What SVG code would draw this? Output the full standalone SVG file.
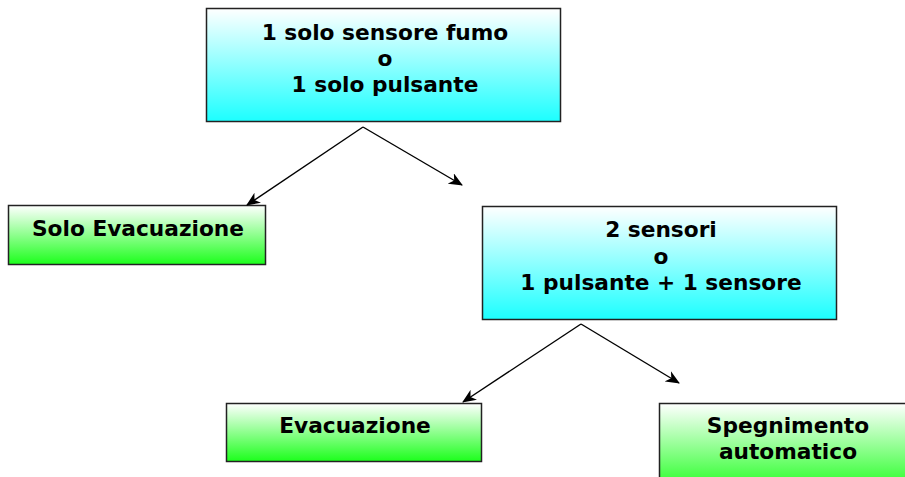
<svg xmlns="http://www.w3.org/2000/svg" width="905" height="477" viewBox="0 0 905 477">
<defs>
<linearGradient id="gc" x1="0" y1="0" x2="0" y2="1">
<stop offset="0" stop-color="#ffffff"/>
<stop offset="1" stop-color="#1cffff"/>
</linearGradient>
<linearGradient id="gg" x1="0" y1="0" x2="0" y2="1">
<stop offset="0" stop-color="#ffffff"/>
<stop offset="1" stop-color="#1cff1c"/>
</linearGradient>
<marker id="ah" viewBox="0 0 14 12" refX="13" refY="6" markerWidth="14" markerHeight="12" markerUnits="userSpaceOnUse" orient="auto">
<path d="M0,0 L14,6 L0,12 L4,6 z" fill="#000"/>
</marker>
<style>
.box{stroke:#222;stroke-width:1.5}
.t{font-family:"DejaVu Sans",Verdana,sans-serif;font-weight:bold;font-size:21.7px;fill:#000;text-anchor:middle}
.c{stroke:#000;stroke-width:1.4;fill:none;marker-end:url(#ah)}
</style>
</defs>
<g id="n1">
<rect class="box" x="206.5" y="8.5" width="354" height="113" fill="url(#gc)"/>
<text class="t" x="385" y="40">1 solo sensore fumo</text>
<text class="t" x="385" y="66">o</text>
<text class="t" x="385" y="92">1 solo pulsante</text>
</g>
<g id="n2">
<rect class="box" x="8.5" y="205.5" width="257" height="59" fill="url(#gg)"/>
<text class="t" x="138" y="236">Solo Evacuazione</text>
</g>
<g id="n3">
<rect class="box" x="482.5" y="206.5" width="354" height="113" fill="url(#gc)"/>
<text class="t" x="661" y="237">2 sensori</text>
<text class="t" x="661" y="263.5">o</text>
<text class="t" x="661" y="290">1 pulsante + 1 sensore</text>
</g>
<g id="n4">
<rect class="box" x="226.5" y="403.5" width="255" height="58" fill="url(#gg)"/>
<text class="t" x="355" y="433">Evacuazione</text>
</g>
<g id="n5">
<rect class="box" x="659.5" y="403.5" width="260" height="90" fill="url(#gg)"/>
<text class="t" x="788" y="433">Spegnimento</text>
<text class="t" x="788" y="459">automatico</text>
</g>
<g id="connectors">
<line class="c" x1="363" y1="127" x2="247" y2="205"/>
<line class="c" x1="363" y1="127" x2="462" y2="185"/>
<line class="c" x1="581" y1="324" x2="463" y2="402"/>
<line class="c" x1="581" y1="324" x2="679" y2="383"/>
</g>
</svg>
